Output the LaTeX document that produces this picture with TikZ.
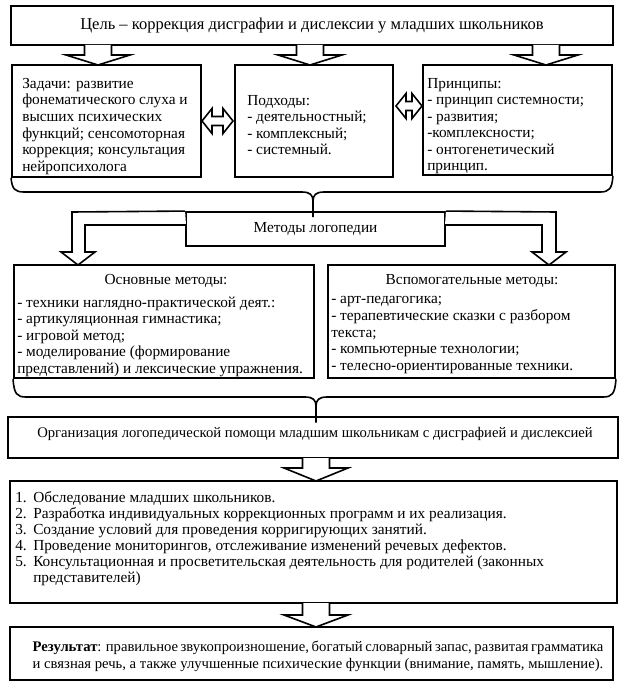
\documentclass[tikz,border=0pt]{standalone}
\usepackage{fontspec}
\setmainfont{Liberation Serif}
\newcommand\pxu{0.75pt}
\tikzset{
  boxn/.style={draw, line width=1.4pt, inner sep=0pt, fill=white},
  txt/.style={inner sep=0pt, align=left, anchor=north west, font=\fontsize{11.5}{12.4}\selectfont},
  ctxt/.style={inner sep=0pt, align=center, font=\fontsize{11.5}{12.4}\selectfont},
  arr/.style={draw, line width=1.2pt, fill=white, line join=miter},
  conn/.style={draw, line width=1.2pt},
}
\newcommand\mkbox[5]{\node[boxn, minimum width={(#4-(#2))*\pxu}, minimum height={(#5-(#3))*\pxu}] (#1) at ({(#2+#4)/2},{(#3+#5)/2}) {};}
% down block arrow: x, ytop, ytip, yheadbase
\newcommand\dnarrow[4]{\draw[arr] (#1-13.5,#2) -- (#1-13.5,#4) -- (#1-32,#4) -- (#1,#3) -- (#1+32,#4) -- (#1+13.5,#4) -- (#1+13.5,#2);}
% double horizontal arrow: x1, x2, y
\newcommand\dblarrow[3]{\draw[arr] (#1,#3) -- (#1+10,#3-12.5) -- (#1+10,#3-4.5) -- (#2-10,#3-4.5) -- (#2-10,#3-12.5) -- (#2,#3) -- (#2-10,#3+12.5) -- (#2-10,#3+4.5) -- (#1+10,#3+4.5) -- (#1+10,#3+12.5) -- cycle;}
\begin{document}
\begin{tikzpicture}[x=0.75pt,y=-0.75pt]
\useasboundingbox[fill=white] (0,0) rectangle (624,688);

% goal
\mkbox{goal}{11}{6}{613}{45}
\node[ctxt, font=\fontsize{12.4}{14}\selectfont] (goalT) at (goal.center) {Цель – коррекция дисграфии и дислексии у младших школьников};

\dnarrow{98}{45}{65}{55}
\dnarrow{310}{45}{65}{55}
\dnarrow{546}{45}{65}{55}

% row 2
\mkbox{zad}{12}{65}{201}{177}
\node[txt] (zadT) at (22,78) {Задачи: развитие\\фонематического слуха и\\высших психических\\функций; сенсомоторная\\коррекция; консультация\\нейропсихолога};
\mkbox{pod}{235}{65}{393}{177}
\node[txt] (podT) at (247,95) {Подходы:\\- деятельностный;\\- комплексный;\\- системный.};
\mkbox{pri}{423}{65}{612}{175}
\node[txt] (priT) at (427,78) {Принципы:\\- принцип системности;\\- развития;\\-комплексности;\\- онтогенетический\\принцип.};

\dblarrow{202}{233}{121}
\dblarrow{396}{422}{106}

% methods
\mkbox{met}{186}{212}{445}{246}
\node[ctxt] (metT) at (met.center) {Методы логопедии};

% brace 1
\coordinate (b1tip) at (313,201);
\draw[conn] (zad.south west) .. controls (12,189) and (15,192) .. (24,192) -- (302,192) .. controls (310,192) and (313,195) .. (b1tip) -- ([yshift=-4.5pt]b1tip |- met.north);
\draw[conn] (pri.south east) .. controls (612,189) and (609,192) .. (600,192) -- (324,192) .. controls (316,192) and (313,195) .. (b1tip);

% bent arrows
\draw[arr] (met.north west) -- (72,212) -- (72,252) -- (61,252) -- (78,265) -- (95,252) -- (85,252) -- (85,225) -- (186,225);
\draw[arr] (met.north east) -- (556,212) -- (556,252) -- (566,252) -- (549,265) -- (532,252) -- (542,252) -- (542,225) -- (445,225);

% methods boxes
\mkbox{osn}{14}{265}{314}{378}
\node[ctxt] (osnT) at (166,281) {Основные методы:};
\node[txt] (osnL) at (17,296.5) {- техники наглядно-практической деят.:\\- артикуляционная гимнастика;\\- игровой метод;\\- моделирование (формирование\\представлений) и лексические упражнения.};
\mkbox{vsp}{328}{265}{615}{378}
\node[ctxt] (vspT) at (472,281) {Вспомогательные методы:};
\node[txt] (vspL) at (331,296.5) {- арт-педагогика;\\- терапевтические сказки с разбором\\текста;\\- компьютерные технологии;\\- телесно-ориентированные техники.};

% organisation
\mkbox{org}{8}{417}{618}{458}
\node[ctxt, font=\fontsize{11}{13}\selectfont] (orgT) at (315,434) {Организация логопедической помощи младшим школьникам с дисграфией и дислексией};

% brace 2
\coordinate (b2tip) at (316,406);
\draw[conn] (osn.south west) .. controls (14,394) and (17,397) .. (26,397) -- (305,397) .. controls (313,397) and (316,400) .. (b2tip) -- ([yshift=-5pt]b2tip |- org.north);
\draw[conn] (vsp.south east) .. controls (615,394) and (612,397) .. (603,397) -- (327,397) .. controls (319,397) and (316,400) .. (b2tip);

\dnarrow{316}{458}{481}{468}

% list
\mkbox{lst}{10}{481}{617}{603}
\node[txt, font=\fontsize{11.5}{12}\selectfont] (lstT) at (15,491) {\makebox[13.5pt][l]{1.}Обследование младших школьников.\\
\makebox[13.5pt][l]{2.}Разработка индивидуальных коррекционных программ и их реализация.\\
\makebox[13.5pt][l]{3.}Создание условий для проведения корригирующих занятий.\\
\makebox[13.5pt][l]{4.}Проведение мониторингов, отслеживание изменений речевых дефектов.\\
\makebox[13.5pt][l]{5.}Консультационная и просветительская деятельность для родителей (законных\\
\hspace*{13.5pt}представителей)};

\dnarrow{316}{603}{627}{615}

% result
\mkbox{res}{10}{627}{613}{680}
\node[ctxt, font=\fontsize{11}{12.75}\selectfont] (resT) at (318,656) {\makebox[428pt][s]{\textbf{Результат}: правильное звукопроизношение, богатый словарный запас, развитая грамматика}\\\makebox[428pt][s]{и связная речь, а также улучшенные психические функции (внимание, память, мышление).}};
\end{tikzpicture}
\end{document}
